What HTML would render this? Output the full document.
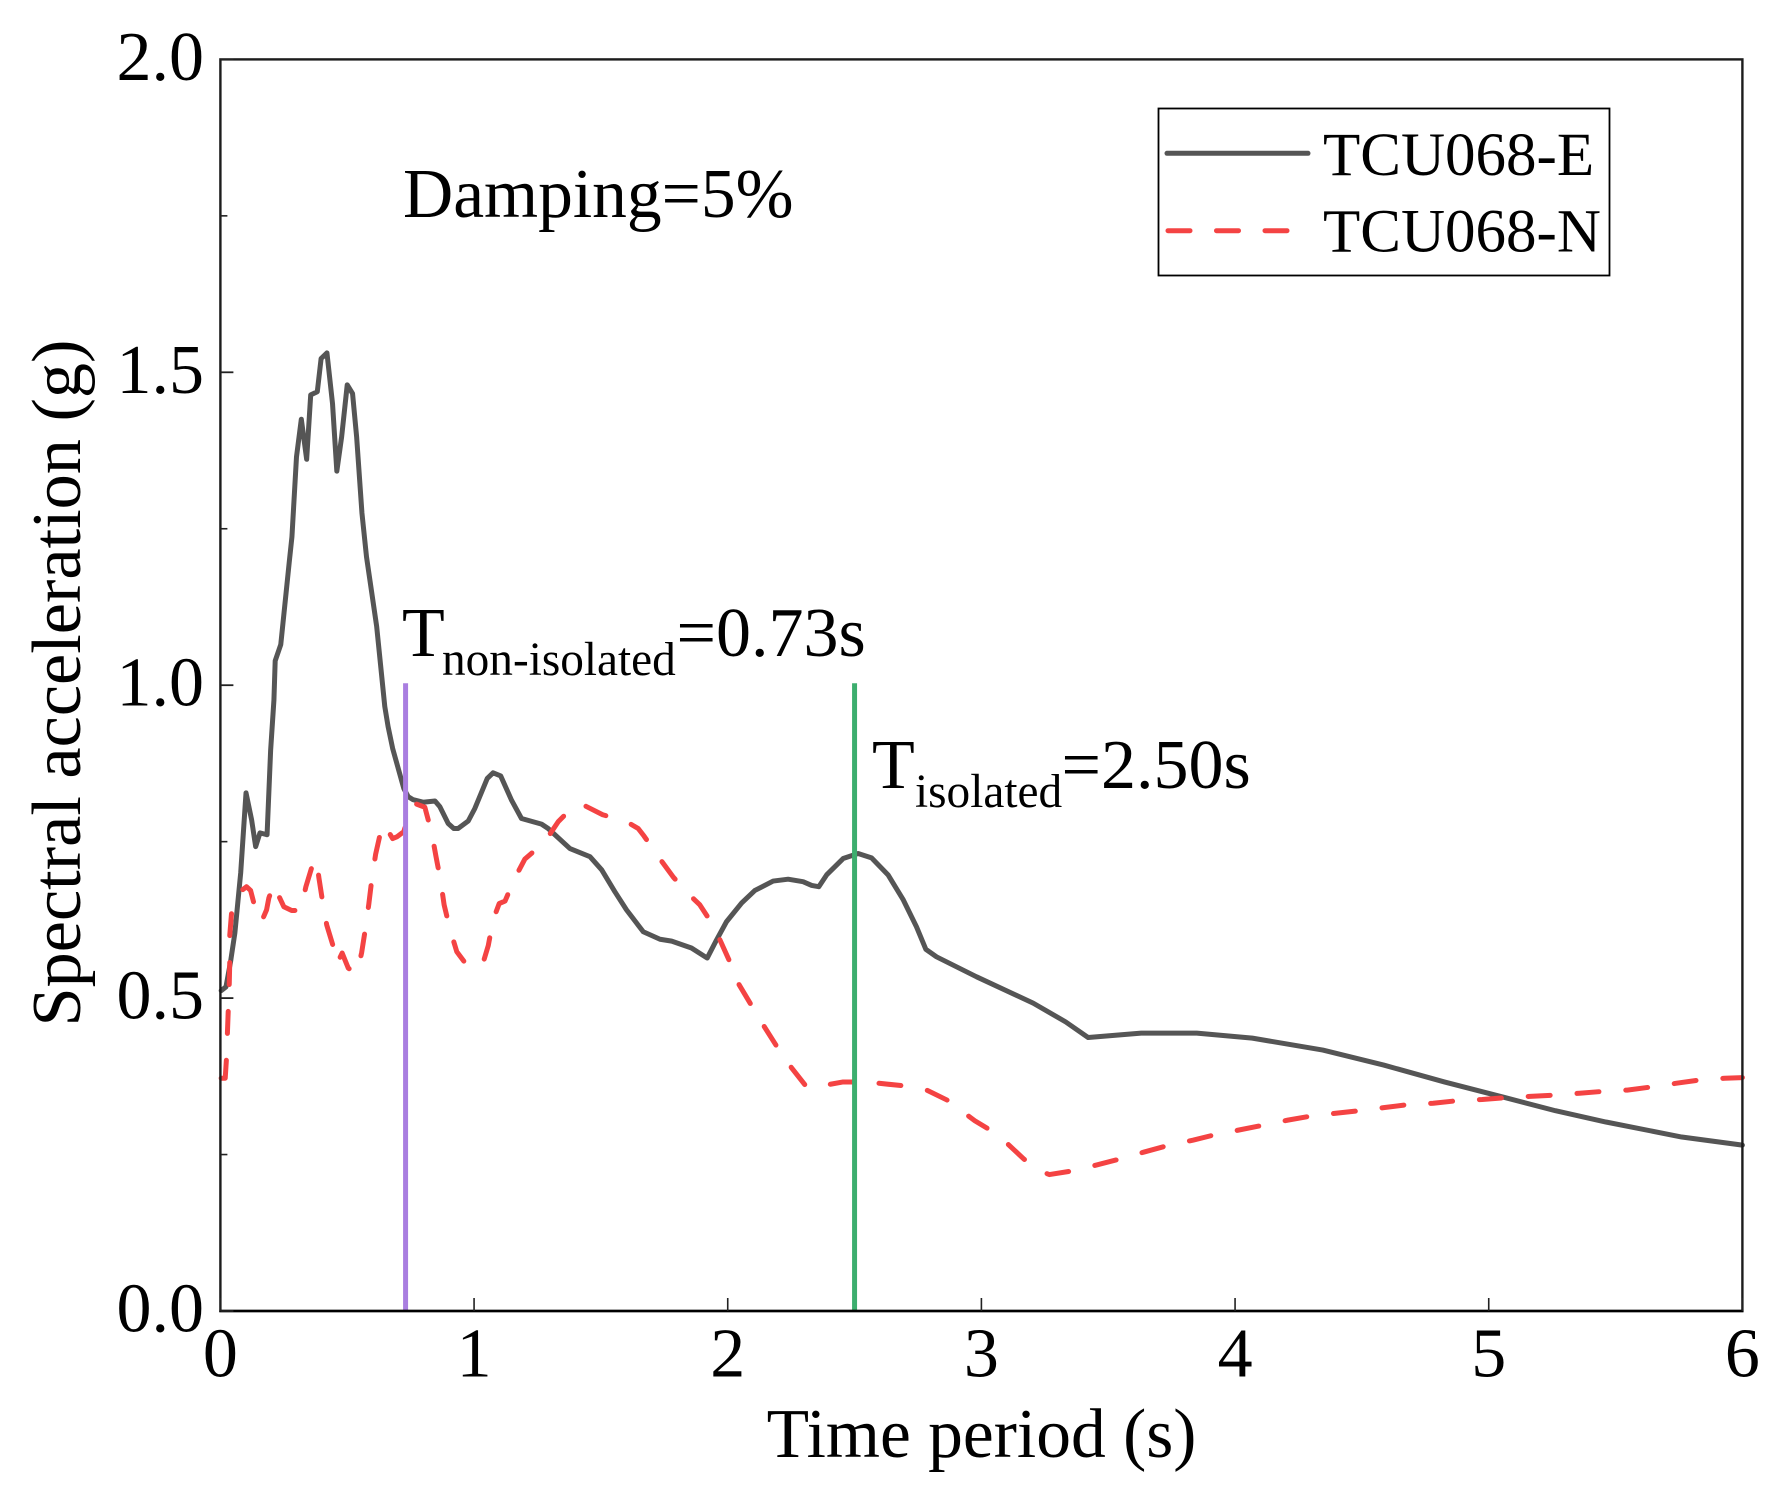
<!DOCTYPE html>
<html>
<head>
<meta charset="utf-8">
<style>
html,body{margin:0;padding:0;background:#fff;width:1792px;height:1500px;overflow:hidden}
svg{display:block}
text{font-family:"Liberation Serif","Times New Roman",serif;fill:#000}
</style>
</head>
<body>
<svg id="chart" xmlns="http://www.w3.org/2000/svg" width="1792" height="1500" viewBox="0 0 1792 1500">
  <rect x="0" y="0" width="1792" height="1500" fill="#fff"/>
  <g id="series"></g>
  <g id="markers"></g>
  <rect x="220.4" y="59.4" width="1522" height="1251.6" fill="none" stroke="#1c1c1c" stroke-width="2.4"/>
  <line x1="219.4" y1="1311" x2="1743.4" y2="1311" stroke="#000" stroke-width="2.6"/>
  <g id="ticks"></g>
  <text x="981.5" y="1457" font-size="69.5" text-anchor="middle">Time period (s)</text>
  <text transform="translate(80,683) rotate(-90)" font-size="70.3" text-anchor="middle">Spectral acceleration (g)</text>
  <text x="403" y="217" font-size="69.5">Damping=5%</text>
  <g>
    <text x="402" y="656" font-size="70">T</text>
    <text x="442" y="675" font-size="47.3">non-isolated</text>
    <text x="676.5" y="656" font-size="70">=0.73s</text>
  </g>
  <g>
    <text x="872" y="788" font-size="70">T</text>
    <text x="915" y="807" font-size="47.3">isolated</text>
    <text x="1061.5" y="788" font-size="70">=2.50s</text>
  </g>
  <g>
    <rect x="1158.5" y="108.5" width="451" height="167" fill="#fff" stroke="#000" stroke-width="1.8"/>
    <line x1="1167" y1="153.3" x2="1308" y2="153.3" stroke="#555" stroke-width="5" stroke-linecap="round"/>
    <text x="1323" y="175" font-size="61">TCU068-E</text>
    <line x1="1168" y1="230.7" x2="1290" y2="230.7" stroke="#f44343" stroke-width="5" stroke-linecap="round" stroke-dasharray="22 26.5"/>
    <text x="1323" y="251.7" font-size="61">TCU068-N</text>
  </g>
</svg>
<script>
const periodsE = [0.003,0.022,0.040,0.057,0.080,0.101,0.123,0.139,0.156,0.184,0.198,0.211,0.216,0.238,0.271,0.282,0.300,0.319,0.340,0.356,0.382,0.397,0.420,0.442,0.459,0.478,0.500,0.521,0.537,0.558,0.576,0.616,0.648,0.661,0.679,0.723,0.740,0.760,0.799,0.846,0.865,0.898,0.920,0.937,0.977,1.003,1.052,1.075,1.105,1.148,1.187,1.266,1.292,1.378,1.457,1.503,1.555,1.601,1.667,1.733,1.779,1.857,1.919,1.956,1.995,2.055,2.107,2.179,2.238,2.297,2.331,2.359,2.390,2.455,2.514,2.567,2.632,2.692,2.744,2.781,2.823,2.981,3.204,3.332,3.421,3.630,3.849,4.068,4.346,4.586,4.825,5.064,5.263,5.462,5.761,6.0];
const accelE = [0.512,0.518,0.558,0.604,0.700,0.828,0.785,0.742,0.764,0.761,0.896,0.976,1.039,1.065,1.195,1.237,1.365,1.425,1.361,1.464,1.469,1.522,1.531,1.450,1.342,1.397,1.480,1.466,1.397,1.275,1.205,1.094,0.966,0.934,0.899,0.835,0.822,0.817,0.813,0.815,0.806,0.779,0.771,0.771,0.783,0.803,0.851,0.860,0.855,0.816,0.787,0.778,0.771,0.739,0.726,0.705,0.670,0.641,0.606,0.594,0.591,0.580,0.564,0.593,0.622,0.652,0.672,0.687,0.690,0.686,0.680,0.678,0.697,0.723,0.731,0.724,0.697,0.657,0.614,0.578,0.566,0.534,0.492,0.462,0.437,0.444,0.444,0.436,0.417,0.393,0.366,0.341,0.320,0.302,0.278,0.265];
const periodsN = [0.003,0.019,0.024,0.031,0.035,0.037,0.037,0.044,0.049,0.084,0.103,0.119,0.133,0.162,0.182,0.191,0.211,0.228,0.250,0.281,0.316,0.337,0.361,0.379,0.388,0.403,0.419,0.449,0.460,0.480,0.504,0.523,0.539,0.557,0.572,0.585,0.597,0.612,0.632,0.638,0.655,0.679,0.697,0.723,0.747,0.773,0.806,0.833,0.850,0.868,0.882,0.905,0.932,0.971,1.016,1.039,1.056,1.075,1.099,1.122,1.161,1.200,1.279,1.332,1.378,1.424,1.507,1.601,1.647,1.670,1.730,1.786,1.849,1.890,1.919,1.966,2.006,2.041,2.091,2.140,2.193,2.249,2.311,2.400,2.455,2.501,2.593,2.689,2.784,2.865,2.944,2.974,3.023,3.101,3.167,3.223,3.268,3.361,3.451,3.547,3.641,3.740,3.834,3.924,4.013,4.112,4.208,4.307,4.397,4.490,4.586,4.685,4.781,4.874,4.974,5.068,5.163,5.263,5.358,5.452,5.546,5.641,5.741,5.830,5.930,6.0];
const accelN = [0.372,0.372,0.404,0.481,0.524,0.561,0.601,0.636,0.638,0.672,0.678,0.672,0.650,0.622,0.641,0.660,0.682,0.665,0.646,0.640,0.640,0.678,0.710,0.722,0.693,0.654,0.617,0.577,0.555,0.572,0.548,0.542,0.540,0.573,0.612,0.650,0.690,0.730,0.766,0.778,0.771,0.755,0.758,0.766,0.798,0.810,0.805,0.764,0.726,0.688,0.649,0.610,0.574,0.553,0.549,0.561,0.584,0.625,0.651,0.655,0.692,0.722,0.750,0.782,0.801,0.810,0.793,0.782,0.771,0.759,0.724,0.693,0.665,0.649,0.631,0.596,0.560,0.524,0.490,0.457,0.423,0.390,0.358,0.362,0.366,0.366,0.364,0.360,0.353,0.337,0.313,0.304,0.292,0.268,0.243,0.225,0.218,0.224,0.233,0.243,0.254,0.265,0.273,0.282,0.289,0.297,0.305,0.312,0.316,0.320,0.325,0.330,0.332,0.336,0.338,0.341,0.343,0.345,0.348,0.351,0.353,0.358,0.364,0.369,0.372,0.373];
const xTicks = [0,1,2,3,4,5,6];
const xTickLabels = ['0','1','2','3','4','5','6'];
const yTicks = [0,0.5,1,1.5,2];
const yTickLabels = ['0.0','0.5','1.0','1.5','2.0'];
const yMinorTicks = [0.25,0.75,1.25,1.75];
const markerPeriods = [0.73,2.5];
const markerHeight = [1,1];

const NS = 'http://www.w3.org/2000/svg';
function sx(t){ return 220.4 + (t / 6) * 1522; }
function sy(a){ return 1311 - (a / 2) * 1251.6; }
function make(tag, attrs, parent){
  const el = document.createElementNS(NS, tag);
  for (const k in attrs) el.setAttribute(k, attrs[k]);
  parent.appendChild(el);
  return el;
}
function pathFrom(xs, ys){
  return xs.map((t, i) => (i ? 'L' : 'M') + sx(t).toFixed(2) + ' ' + sy(ys[i]).toFixed(2)).join(' ');
}
const seriesG = document.getElementById('series');
const markersG = document.getElementById('markers');
const ticksG = document.getElementById('ticks');

const lineE = make('path', {d: pathFrom(periodsE, accelE), fill: 'none', stroke: '#555', 'stroke-width': 5, 'stroke-linejoin': 'round', 'stroke-linecap': 'round'}, seriesG);


const lineN = make('path', {d: pathFrom(periodsN, accelN), fill: 'none', stroke: '#f44343', 'stroke-width': 5, 'stroke-linejoin': 'round', 'stroke-linecap': 'round', 'stroke-dasharray': '22 26.9'}, seriesG);



const markerColors = ['#a97ee0', '#3cae6e'];
markerPeriods.forEach((t, i) => {
  const m = make('line', {x1: sx(t), x2: sx(t), y1: sy(markerHeight[i]) - 2, y2: sy(0), stroke: markerColors[i], 'stroke-width': 5}, markersG);
  
  
});

xTicks.forEach((v, i) => {
  const t = make('line', {x1: sx(v), x2: sx(v), y1: sy(0), y2: sy(0) - 13, stroke: '#222', 'stroke-width': 1.6}, ticksG);
  
  
  const l = make('text', {x: sx(v), y: 1376.7, 'font-size': 70, 'text-anchor': 'middle'}, ticksG);
  l.textContent = xTickLabels[i];
  
  
});
yTicks.forEach((v, i) => {
  const t = make('line', {x1: sx(0), x2: sx(0) + 13, y1: sy(v), y2: sy(v), stroke: '#222', 'stroke-width': 1.8}, ticksG);
  
  
  const l = make('text', {x: 204, y: sy(v) + 20.5, 'font-size': 70, 'text-anchor': 'end'}, ticksG);
  l.textContent = yTickLabels[i];
  
  
});
yMinorTicks.forEach((v) => {
  const t = make('line', {x1: sx(0), x2: sx(0) + 7, y1: sy(v), y2: sy(v), stroke: '#222', 'stroke-width': 1.6}, ticksG);
  
  
});
</script>
</body>
</html>
